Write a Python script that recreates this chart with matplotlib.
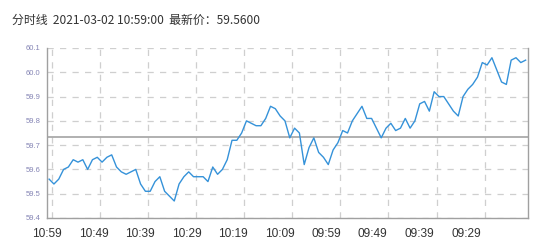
import matplotlib
matplotlib.use('Agg')
import matplotlib.pyplot as plt
import numpy as np

plt.rcParams['font.family'] = ['Noto Sans CJK SC', 'DejaVu Sans']

# minute prices, newest (10:59) first, going back in time
prices = [
    59.56, 59.54, 59.56, 59.60, 59.61, 59.64, 59.63, 59.64, 59.60, 59.64,
    59.65, 59.63, 59.65, 59.66, 59.61, 59.59, 59.58, 59.59, 59.60, 59.54,
    59.51, 59.51, 59.55, 59.57, 59.51, 59.49, 59.47, 59.54, 59.57, 59.59,
    59.57, 59.57, 59.57, 59.55, 59.61, 59.58, 59.60, 59.64, 59.72, 59.72,
    59.75, 59.80, 59.79, 59.78, 59.78, 59.81, 59.86, 59.85, 59.82, 59.80,
    59.73, 59.77, 59.75, 59.62, 59.69, 59.73, 59.67, 59.65, 59.62, 59.68,
    59.71, 59.76, 59.75, 59.80, 59.83, 59.86, 59.81, 59.81, 59.77, 59.73,
    59.77, 59.79, 59.76, 59.77, 59.81, 59.77, 59.80, 59.87, 59.88, 59.84,
    59.92, 59.90, 59.90, 59.87, 59.84, 59.82, 59.90, 59.93, 59.95, 59.98,
    60.04, 60.03, 60.06, 60.01, 59.96, 59.95, 60.05, 60.06, 60.04, 60.05,
]
time_labels = ['10:59', '10:49', '10:39', '10:29', '10:19',
               '10:09', '09:59', '09:49', '09:39', '09:29']
y_ticks = [59.4, 59.5, 59.6, 59.7, 59.8, 59.9, 60.0, 60.1]
ref_price = 59.735
title = '分时线  2021-03-02 10:59:00  最新价：59.5600'

c_line = '#3592d9'
c_grid = '#cfcfcf'
c_axis = '#a0a0a0'

fig = plt.figure(figsize=(5.42, 2.5), dpi=100)
ax = fig.add_axes([0.0862, 0.128, 0.888, 0.680])

xs = np.arange(len(prices))
ax.plot(xs, prices, color=c_line, lw=1.0, zorder=3)
ax.axhline(ref_price, color='#aaaaaa', lw=1.3, zorder=2)

ax.set_xlim(-0.5, len(prices) - 0.5)
ax.set_ylim(59.4, 60.1)

# grid at category boundaries, labels drift slightly like the original
ax.set_xticks([10 * k + 0.5 for k in range(len(time_labels))], minor=True)
ax.set_xticks([-0.42 + 9.668 * k for k in range(len(time_labels))])
ax.set_xticklabels(time_labels, fontsize=8.6, color='#333333',
                   family=['Liberation Sans', 'DejaVu Sans'])
ax.set_yticks(y_ticks)
ax.set_yticklabels([f'{v:.1f}' for v in y_ticks], fontsize=5.5, color='#8585b5',
                   family=['Liberation Sans', 'DejaVu Sans'])
ax.tick_params(axis='x', which='both', length=0, pad=7)
ax.tick_params(axis='y', length=0, pad=4.5)

ax.grid(which='minor', axis='x', color=c_grid, lw=0.9, ls=(0, (5, 5)))
ax.grid(which='major', axis='y', color=c_grid, lw=0.9, ls=(0, (5, 5)))
ax.grid(which='major', axis='x', visible=False)

for side in ['left', 'bottom', 'right']:
    ax.spines[side].set_color(c_axis)
    ax.spines[side].set_linewidth(1.0)
ax.spines['top'].set_visible(False)

fig.text(12 / 542, 1 - 20 / 250, title, fontsize=8.6, color='#333333',
         va='center', ha='left')

fig.savefig('out.png', dpi=100)
